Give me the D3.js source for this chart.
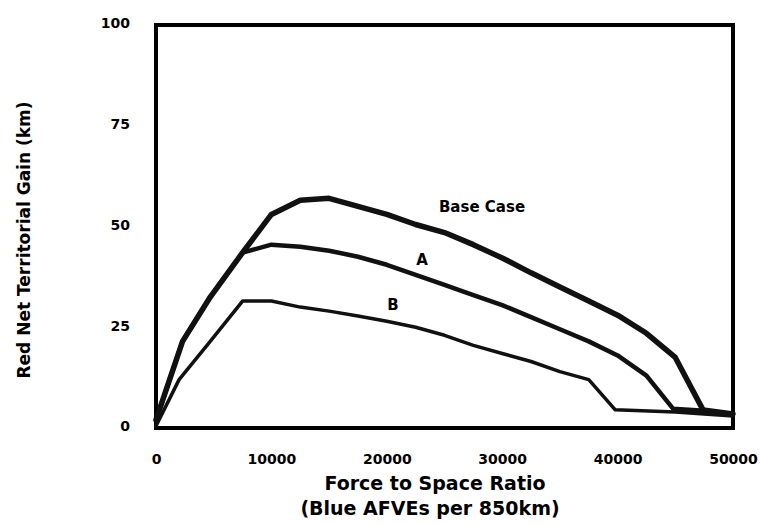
<!DOCTYPE html>
<html>
<head>
<meta charset="utf-8">
<script src="https://cdn.jsdelivr.net/npm/d3@7"></script>
<style>
  body { margin: 0; background: #fff; }
  svg { font-family: "DejaVu Sans", sans-serif; font-weight: bold; }
</style>
</head>
<body>
<div id="chart"></div>
<script>
// data
const baseX = [0, 2300, 4700, 7500, 10000, 12500, 15000, 17500, 20000, 22500, 25000, 27500, 30000, 32500, 35000, 37500, 40000, 42500, 45000, 47400, 50000];
const baseY = [2, 21.5, 32.5, 43.5, 53, 56.5, 57, 55, 53, 50.5, 48.5, 45.5, 42.2, 38.5, 35, 31.5, 28, 23.5, 17.5, 4.5, 3.5];

const aX = [0, 2300, 4700, 7500, 10000, 12500, 15000, 17500, 20000, 22500, 25000, 27500, 30000, 32500, 35000, 37500, 40000, 42500, 44800, 47500, 50000];
const aY = [2, 21.5, 32.5, 43.5, 45.5, 45, 44, 42.5, 40.5, 38, 35.5, 33, 30.5, 27.5, 24.5, 21.5, 18, 13, 4.8, 4.3, 3.5];

const bX = [0, 2000, 4700, 7500, 10000, 12500, 15000, 17500, 20000, 22500, 25000, 27500, 30000, 32500, 35000, 37500, 39800, 45000, 50000];
const bY = [0.5, 12, 21.5, 31.5, 31.5, 30, 29, 27.8, 26.5, 25, 23, 20.5, 18.5, 16.5, 14, 12, 4.5, 4, 3];

const xTicks = [0, 10000, 20000, 30000, 40000, 50000];
const yTicks = [0, 25, 50, 75, 100];

const labels = [
  { text: "Base Case", x: 28250, y: 54.8, size: 15 },
  { text: "A", x: 23050, y: 41.7, size: 15 },
  { text: "B", x: 20540, y: 30.5, size: 15 }
];

const width = 760;
const height = 525;
const margin = { top: 25, right: 27, bottom: 97, left: 156 };

const svg = d3.select("#chart")
  .append("svg")
  .attr("width", width)
  .attr("height", height);

const x = d3.scaleLinear()
  .domain([0, 50000])
  .range([margin.left, width - margin.right]);

const y = d3.scaleLinear()
  .domain([0, 100])
  .range([height - margin.bottom, margin.top]);

// Axes (labels only, the frame is drawn separately)
svg.append("g")
  .attr("transform", `translate(0,${height - margin.bottom})`)
  .call(d3.axisBottom(x).tickValues(xTicks).tickSize(0).tickPadding(26).tickFormat(d3.format("d")))
  .call(g => g.select(".domain").remove())
  .call(g => g.selectAll("text").attr("font-size", 14).attr("font-weight", "bold").attr("fill", "#000")
    .attr("font-family", "DejaVu Sans"));

svg.append("g")
  .attr("transform", `translate(${margin.left},0)`)
  .call(d3.axisLeft(y).tickValues(yTicks).tickSize(0).tickPadding(26))
  .call(g => g.select(".domain").remove())
  .call(g => g.selectAll("text").attr("font-size", 14).attr("font-weight", "bold").attr("fill", "#000")
    .attr("font-family", "DejaVu Sans").attr("dy", "0.2em"));

// Frame
svg.append("rect")
  .attr("x", margin.left)
  .attr("y", margin.top)
  .attr("width", width - margin.left - margin.right)
  .attr("height", height - margin.top - margin.bottom)
  .attr("fill", "none")
  .attr("stroke", "#000")
  .attr("stroke-width", 4);

// Titles
svg.append("text")
  .attr("x", 435)
  .attr("y", 490)
  .attr("text-anchor", "middle")
  .attr("font-size", 19)
  .text("Force to Space Ratio");

svg.append("text")
  .attr("x", 430)
  .attr("y", 515)
  .attr("text-anchor", "middle")
  .attr("font-size", 19)
  .text("(Blue AFVEs per 850km)");

svg.append("text")
  .attr("transform", "translate(30,240) rotate(-90)")
  .attr("text-anchor", "middle")
  .attr("font-size", 17)
  .text("Red Net Territorial Gain (km)");

// Lines
const line = d3.line()
  .x(d => x(d[0]))
  .y(d => y(d[1]));

const series = [
  { xs: bX, ys: bY, w: 3.5 },
  { xs: aX, ys: aY, w: 4.5 },
  { xs: baseX, ys: baseY, w: 5.5 }
];

svg.append("g")
  .attr("fill", "none")
  .attr("stroke", "#111")
  .attr("stroke-linejoin", "round")
  .attr("stroke-linecap", "round")
  .selectAll("path")
  .data(series)
  .join("path")
  .attr("stroke-width", d => d.w)
  .attr("d", d => line(d.xs.map((v, i) => [v, d.ys[i]])));

svg.append("g")
  .selectAll("text")
  .data(labels)
  .join("text")
  .attr("x", d => x(d.x))
  .attr("y", d => y(d.y))
  .attr("dy", "0.35em")
  .attr("text-anchor", "middle")
  .attr("font-size", d => d.size)
  .text(d => d.text);
</script>
</body>
</html>
